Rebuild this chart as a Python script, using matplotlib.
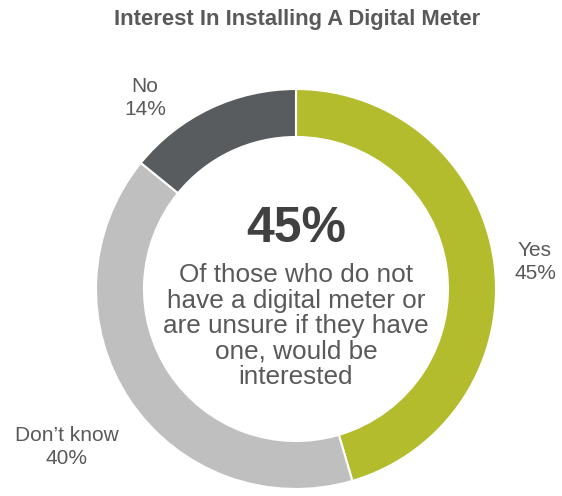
import matplotlib
matplotlib.use("Agg")
import matplotlib.pyplot as plt

# chart data
labels = ["Yes", "Don\u2019t know", "No"]
values = [45, 40, 14]
colors = ["#b3bc2d", "#bfbfbf", "#595c5f"]
title = "Interest In Installing A Digital Meter"
center_value = "45%"
center_text = "Of those who do not\nhave a digital meter or\nare unsure if they have\none, would be\ninterested"

plt.rcParams['font.family'] = ['Liberation Sans', 'DejaVu Sans']

fig = plt.figure(figsize=(5.62, 4.96), dpi=100)
ax = fig.add_axes([0, 0, 1, 1])

# donut, clockwise from 12 o'clock
cx, cy, r = 296, 207, 200
ax.pie(values, colors=colors, startangle=90, counterclock=False,
       center=(cx, cy), radius=r, frame=True,
       wedgeprops=dict(width=48, edgecolor='white', linewidth=1.5))
ax.set_xlim(0, 562)
ax.set_ylim(0, 496)
ax.set_aspect('equal')
ax.axis('off')

txt = '#595959'
ax.text(297, 477, title, ha='center', va='center', fontsize=15.8,
        fontweight='bold', color=txt)

ax.text(cx, 267, center_value, ha='center', va='center', fontsize=36,
        fontweight='bold', color='#404040')
ax.text(cx, 170, center_text, ha='center', va='center', fontsize=18.8,
        color=txt, linespacing=1.07)

# slice labels
label_pos = [(535, 234), (67, 49), (145, 398)]
for lab, val, (x, y) in zip(labels, values, label_pos):
    ax.text(x, y, f"{lab}\n{val}%", ha='center', va='center', fontsize=15,
            color=txt, linespacing=1.25)

fig.savefig('out.png', dpi=100, facecolor='white')
